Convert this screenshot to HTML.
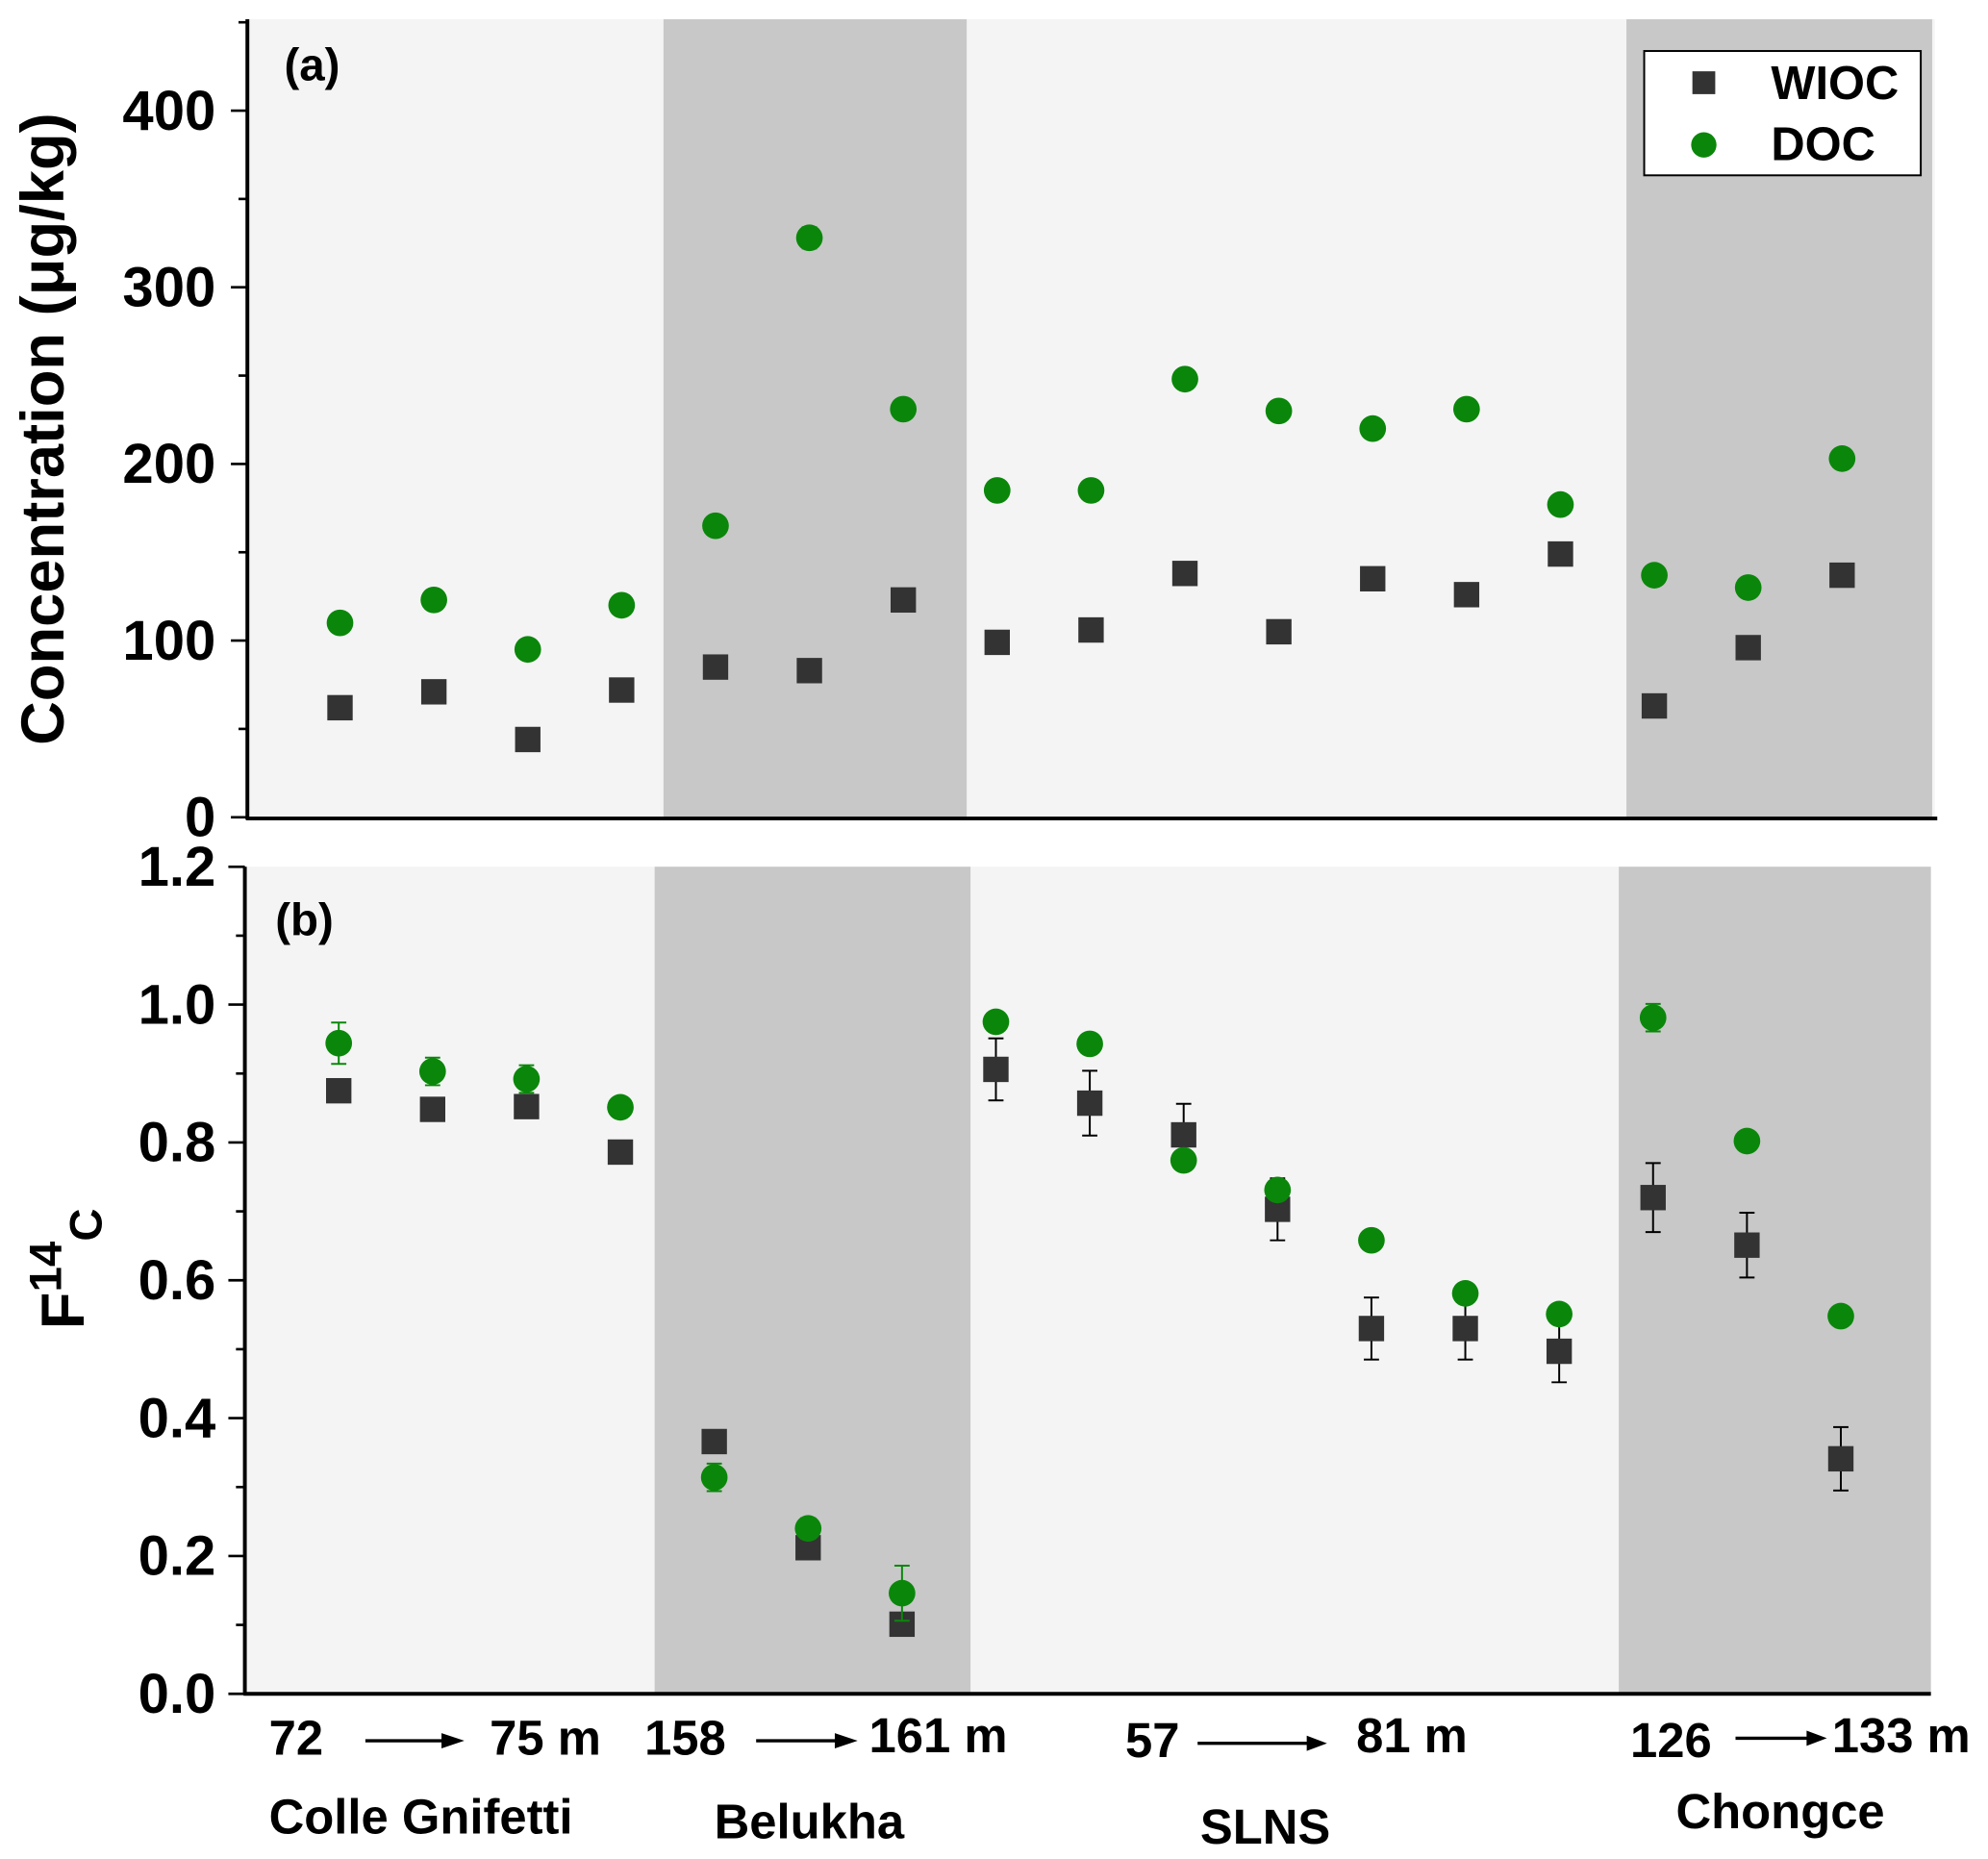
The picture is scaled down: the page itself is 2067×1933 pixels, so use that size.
<!DOCTYPE html>
<html><head><meta charset="utf-8"><style>html,body{margin:0;padding:0;background:#fff}svg{display:block}text{font-family:"Liberation Sans",Arial,sans-serif;font-weight:bold;fill:#000}</style></head>
<body>
<svg id="chart" width="2067" height="1933" viewBox="0 0 1567 1465" xmlns="http://www.w3.org/2000/svg">
<g id="bg"></g><g id="axes"></g><g id="marks"></g>
<g>
<rect x="1296" y="40" width="218" height="98" fill="#fff" stroke="#000" stroke-width="1.5"/>
<rect x="1334" y="56" width="18" height="18" fill="#333"/>
<text x="1396" y="78" font-size="37">WIOC</text>
<circle cx="1343" cy="114" r="10" fill="#0a870a"/>
<text x="1396" y="126" font-size="37">DOC</text>
</g>
<text x="224" y="63" font-size="36">(a)</text>
<text x="217" y="737" font-size="36">(b)</text>
<text transform="translate(50,338) rotate(-90)" text-anchor="middle" font-size="48">Concentration (μg/kg)</text>
<text transform="translate(66,1000) rotate(-90)" text-anchor="middle" font-size="48">F<tspan dy="-18" font-size="36">14</tspan><tspan dy="32" font-size="36">C</tspan></text>
<g font-size="38.5">
<text x="212" y="1383">72</text><text x="386" y="1383">75 m</text>
<text x="508" y="1383">158</text><text x="685" y="1381">161 m</text>
<text x="887" y="1385">57</text><text x="1069" y="1381">81 m</text>
<text x="1285" y="1385">126</text><text x="1444" y="1381">133 m</text>
<text x="212" y="1445">Colle Gnifetti</text><text x="563" y="1449">Belukha</text>
<text x="946" y="1453">SLNS</text><text x="1321" y="1441">Chongce</text>
</g>
<g stroke="#000" stroke-width="2.5">
<line x1="288" y1="1372" x2="352" y2="1372"/><line x1="596" y1="1372" x2="662" y2="1372"/>
<line x1="944" y1="1374" x2="1034" y2="1374"/><line x1="1368" y1="1370" x2="1428" y2="1370"/>
</g>
<g fill="#000"><polygon points="366,1372 348,1366 348,1378"/><polygon points="676,1372 658,1366 658,1378"/><polygon points="1046,1374 1030,1368 1030,1380"/><polygon points="1440,1370 1424,1364 1424,1376"/></g>
</svg>
<script>
const wiocA=[62,71,44,72,85,83,123,99,106,138,105,135,126,149,63,96,137];
const docA=[110,123,95,120,165,328,231,185,185,248,230,220,231,177,137,130,203];
const wiocB=[0.875,0.848,0.852,0.786,0.366,0.212,0.101,0.906,0.857,0.811,0.703,0.53,0.53,0.497,0.72,0.651,0.341];
const wiocBErr=[0.01,0.01,0.01,0.01,0.01,0.01,0.01,0.045,0.047,0.045,0.045,0.045,0.045,0.045,0.05,0.047,0.046];
const docB=[0.944,0.903,0.892,0.851,0.314,0.24,0.146,0.975,0.943,0.774,0.731,0.658,0.581,0.551,0.981,0.802,0.548];
const docBErr=[0.03,0.02,0.02,0.01,0.02,0.015,0.04,0.01,0.01,0.01,0.01,0.01,0.01,0.01,0.02,0.01,0.01];
const ticksA=[0,100,200,300,400];
const ticksB=[0,0.2,0.4,0.6,0.8,1.0,1.2];
const NS='http://www.w3.org/2000/svg';
const xPos=i=>268+i*74;
const yA=v=>644-v*1.3925;
const yB=v=>1335-v*543.3;
function mk(p,t,a){const e=document.createElementNS(NS,t);for(const k in a)e.setAttribute(k,a[k]);p.appendChild(e);return e;}
const bg=document.getElementById('bg'),ax=document.getElementById('axes'),mks=document.getElementById('marks');
let r=mk(bg,'rect',{x:195,y:15,width:1330,height:630,fill:'#f4f4f4'});


r=mk(bg,'rect',{x:193,y:683,width:1329,height:652,fill:'#f4f4f4'});


[[523,762,15,630],[1282,1523,15,630],[516,765,683,652],[1276,1522,683,652]].forEach(s=>{const e=mk(bg,'rect',{x:s[0],y:s[2],width:s[1]-s[0],height:s[3],fill:'#c8c8c8'});

});
mk(ax,'line',{x1:195,y1:15,x2:195,y2:646,stroke:'#000','stroke-width':3});
mk(ax,'line',{x1:194,y1:645,x2:1527,y2:645,stroke:'#000','stroke-width':3});
mk(ax,'line',{x1:193,y1:683,x2:193,y2:1336,stroke:'#000','stroke-width':3});
mk(ax,'line',{x1:192,y1:1335,x2:1522,y2:1335,stroke:'#000','stroke-width':3});
for(let v=0;v<=450;v+=50){const y=yA(v);mk(ax,'line',{x1:v%100?188:182,y1:y,x2:195,y2:y,stroke:'#000','stroke-width':2});}
ticksA.forEach(v=>{const t=mk(ax,'text',{x:170,y:yA(v)+15,'text-anchor':'end','font-size':44});t.textContent=v;

});
for(let k=0;k<=12;k++){const y=yB(k/10);mk(ax,'line',{x1:k%2?186:180,y1:y,x2:193,y2:y,stroke:'#000','stroke-width':2});}
ticksB.forEach(v=>{const t=mk(ax,'text',{x:170,y:yB(v)+15,'text-anchor':'end','font-size':44});t.textContent=v.toFixed(1);

});
function err(x,y1,y2,c){mk(mks,'line',{x1:x,y1:y1,x2:x,y2:y2,stroke:c,'stroke-width':1.5});[y1,y2].forEach(y=>mk(mks,'line',{x1:x-6,y1:y,x2:x+6,y2:y,stroke:c,'stroke-width':1.5}));}
wiocA.forEach((v,i)=>{const s=mk(mks,'rect',{x:xPos(i)-10,y:yA(v)-10,width:20,height:20,fill:'#333'});

});
docA.forEach((v,i)=>{if(i==5)err(xPos(i),yA(v-6),yA(v+6),'#0a870a');const c=mk(mks,'circle',{cx:xPos(i),cy:yA(v),r:10.5,fill:'#0a870a'});

});
wiocB.forEach((v,i)=>{const x=xPos(i)-1;err(x,yB(v-wiocBErr[i]),yB(v+wiocBErr[i]),'#000');const s=mk(mks,'rect',{x:x-10,y:yB(v)-10,width:20,height:20,fill:'#333'});

});
docB.forEach((v,i)=>{const x=xPos(i)-1;err(x,yB(v-docBErr[i]),yB(v+docBErr[i]),'#0a870a');const c=mk(mks,'circle',{cx:x,cy:yB(v),r:10.5,fill:'#0a870a'});

});
</script>
</body></html>
